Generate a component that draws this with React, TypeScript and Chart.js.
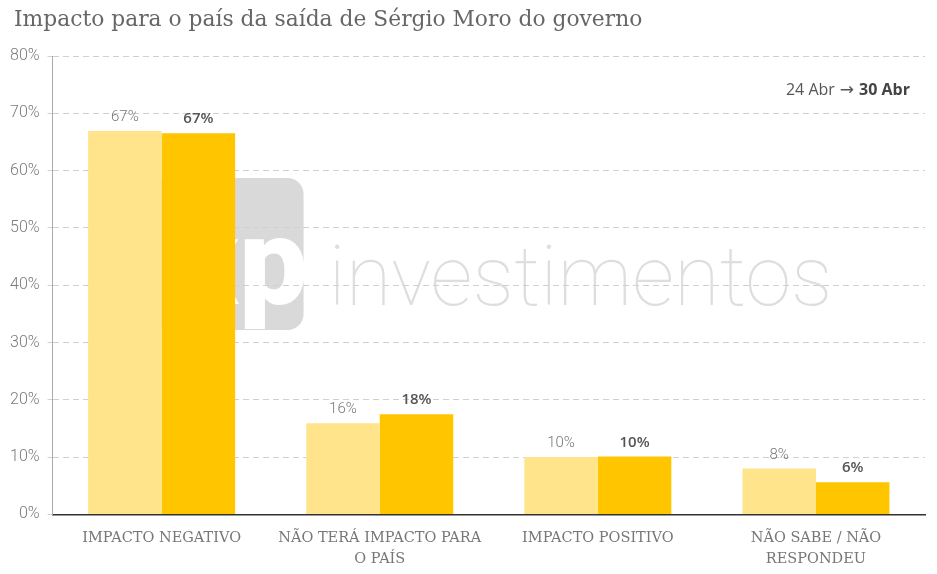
import React, { useEffect, useRef } from 'react';
import { Chart, registerables } from 'chart.js';

Chart.register(...registerables);

// dados
const categories: string[][] = [
  ['IMPACTO NEGATIVO'],
  ['NÃO TERÁ IMPACTO PARA', 'O PAÍS'],
  ['IMPACTO POSITIVO'],
  ['NÃO SABE / NÃO', 'RESPONDEU'],
];
const seriesNames = ['24 Abr', '30 Abr'];
const abr24 = [66.9, 15.9, 10.0, 8.0];
const abr30 = [66.5, 17.5, 10.1, 5.6];
const yTicks = [0, 10, 20, 30, 40, 50, 60, 70, 80];

const TITLE = 'Impacto para o país da saída de Sérgio Moro do governo';

// marca d'água + título + legenda + rótulos
const decorPlugin = {
  id: 'decor',
  beforeDraw(chart: Chart) {
    const { ctx, chartArea } = chart;
    const L = chartArea.left;
    const T = chartArea.top;
    ctx.save();
    // caixa cinza do logo
    const bx = L + 98, by = T + 122, bw = 153, bh = 152;
    ctx.fillStyle = '#d9d9d9';
    ctx.beginPath();
    ctx.roundRect(bx, by, bw, bh, 16);
    ctx.fill();
    ctx.fillStyle = '#ffffff';
    ctx.font = '900 122px Roboto';
    ctx.textAlign = 'right';
    ctx.textBaseline = 'alphabetic';
    ctx.fillText('xp', bx + bw + 4, by + 126);
    // texto "investimentos"
    ctx.fillStyle = '#dedede';
    ctx.textAlign = 'left';
    let size = 96;
    ctx.font = `100 ${size}px Roboto`;
    const w = ctx.measureText('investimentos').width;
    size = size * 504 / w;
    ctx.font = `100 ${size}px Roboto`;
    ctx.fillText('investimentos', L + 276, T + 249);
    ctx.restore();
  },
  afterDraw(chart: Chart) {
    const { ctx, chartArea } = chart;
    ctx.save();
    // título
    ctx.fillStyle = '#666';
    ctx.font = '21.8px "DejaVu Serif"';
    ctx.textAlign = 'left';
    ctx.textBaseline = 'alphabetic';
    ctx.fillText(TITLE, 14, 26);
    // legenda "24 Abr → 30 Abr"
    const right = chartArea.right - 15;
    const yb = 95;
    ctx.textAlign = 'right';
    ctx.font = 'bold 16px "Open Sans"';
    const boldTxt = seriesNames[1];
    ctx.fillStyle = '#444';
    ctx.fillText(boldTxt, right, yb);
    let x = right - ctx.measureText(boldTxt).width - 5;
    ctx.font = '17px "DejaVu Sans"';
    ctx.fillStyle = '#555';
    ctx.fillText('\u2192', x, yb);
    x -= ctx.measureText('\u2192').width + 5;
    ctx.font = '16px "Open Sans"';
    ctx.fillText(seriesNames[0], x, yb);
    // rótulos dos valores
    ctx.textAlign = 'center';
    chart.data.datasets.forEach((ds, di) => {
      const meta = chart.getDatasetMeta(di);
      meta.data.forEach((bar: any, i: number) => {
        const v = Math.round(ds.data[i] as number) + '%';
        if (di === 0) {
          ctx.font = '300 15px Roboto';
          ctx.fillStyle = '#777';
        } else {
          ctx.font = '600 15px "Open Sans"';
          ctx.fillStyle = '#555';
        }
        ctx.fillText(v, bar.x, bar.y - 10);
      });
    });
    ctx.restore();
  },
};

export default function App() {
  const canvasRef = useRef<HTMLCanvasElement | null>(null);

  useEffect(() => {
    document.body.style.margin = '0';
    const canvas = canvasRef.current;
    if (!canvas) return;
    const chart = new Chart(canvas, {
      type: 'bar',
      data: {
        labels: categories,
        datasets: [
          {
            label: seriesNames[0],
            data: abr24,
            backgroundColor: '#FFE48C',
            categoryPercentage: 0.674,
            barPercentage: 1,
          },
          {
            label: seriesNames[1],
            data: abr30,
            backgroundColor: '#FFC600',
            categoryPercentage: 0.674,
            barPercentage: 1,
          },
        ],
      },
      options: {
        animation: false,
        responsive: false,
        layout: { padding: { top: 56, right: 12, left: 2, bottom: -9 } },
        plugins: {
          legend: { display: false },
          title: { display: false },
          tooltip: { enabled: false },
        },
        scales: {
          x: {
            grid: { display: false, drawTicks: false },
            border: { color: '#333', width: 1.5 },
            ticks: {
              color: '#777',
              font: { family: '"DejaVu Serif"', size: 14.5, lineHeight: 1.4 },
              padding: 14,
              maxRotation: 0,
              autoSkip: false,
            },
          },
          y: {
            min: 0,
            max: 80,
            afterBuildTicks: (axis: any) => {
              axis.ticks = yTicks.map((v) => ({ value: v }));
            },
            grid: { color: '#d0d0d0', tickLength: 5 },
            border: { color: '#aaa', dash: [6, 4] },
            ticks: {
              color: '#7a7a7a',
              font: { family: 'Roboto', weight: 300, size: 16 },
              padding: 8,
              callback: (v: any) => v + '%',
            },
          },
        },
      },
      plugins: [decorPlugin],
    });
    return () => {
      chart.destroy();
    };
  }, []);

  return (
    <div style={{ width: 937, height: 574 }}>
      <canvas ref={canvasRef} width={937} height={574} style={{ width: 937, height: 574 }} />
    </div>
  );
}
